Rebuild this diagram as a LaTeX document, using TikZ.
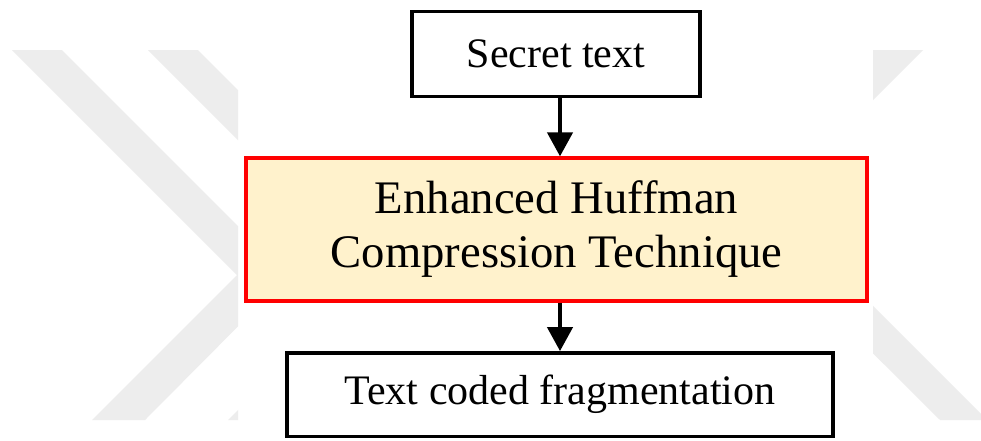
\documentclass[tikz,border=0pt]{standalone}
\usepackage{fontspec}
\setmainfont{Liberation Serif}
\usetikzlibrary{arrows.meta}

\definecolor{wmgray}{RGB}{237,237,237}
\definecolor{cream}{RGB}{255,242,204}
\definecolor{pureRed}{RGB}{255,0,0}

\tikzset{
  plainbox/.style={draw=black, line width=2.6pt, fill=white, inner sep=0pt,
    font=\fontsize{31.5}{36}\selectfont, align=center},
  keybox/.style={draw=pureRed, line width=2.8pt, fill=cream, inner sep=0pt,
    font=\fontsize{35}{40.5}\selectfont, align=center},
  flow/.style={line width=2.6pt, -{Triangle[width=19pt,length=18pt]}},
  chevronfill/.style={fill=wmgray, draw=none}
}

\begin{document}
\begin{tikzpicture}[x=0.75pt, y=-0.75pt]
  \useasboundingbox (0,0) rectangle (981,440);
  \fill[white] (0,0) rectangle (981,440);

  % background chevrons, left margin
  \begin{scope}
    \clip (0,0) rectangle (238,440);
    \fill[chevronfill] (12,50) -- (62,50) -- (288,276) -- (145,420) -- (92,420) -- (237,275) -- cycle;
    \fill[chevronfill] (148,50) -- (198,50) -- (424,276) -- (281,420) -- (228,420) -- (373,275) -- cycle;
  \end{scope}
  % background chevron, right margin
  \begin{scope}
    \clip (873,0) rectangle (981,440);
    \fill[chevronfill] (873,50) -- (923,50) -- (770,203) -- (987,420) -- (940,420) -- (721,202) -- cycle;
  \end{scope}

  % flow chart
  \node[plainbox, minimum width=216pt, minimum height=63.4pt] (sec) at (556,54) {Secret text};
  \node[keybox, minimum width=466pt, minimum height=107pt] (huff) at (556.5,229.5)
    {Enhanced Huffman\\Compression Technique};
  \node[plainbox, minimum width=409.5pt, minimum height=62.6pt] (out) at (560,394.5)
    {Text coded fragmentation};

  \draw[flow] (sec.south -| out.north) -- (huff.north -| out.north);
  \draw[flow] (huff.south -| out.north) -- (out.north);
\end{tikzpicture}
\end{document}
